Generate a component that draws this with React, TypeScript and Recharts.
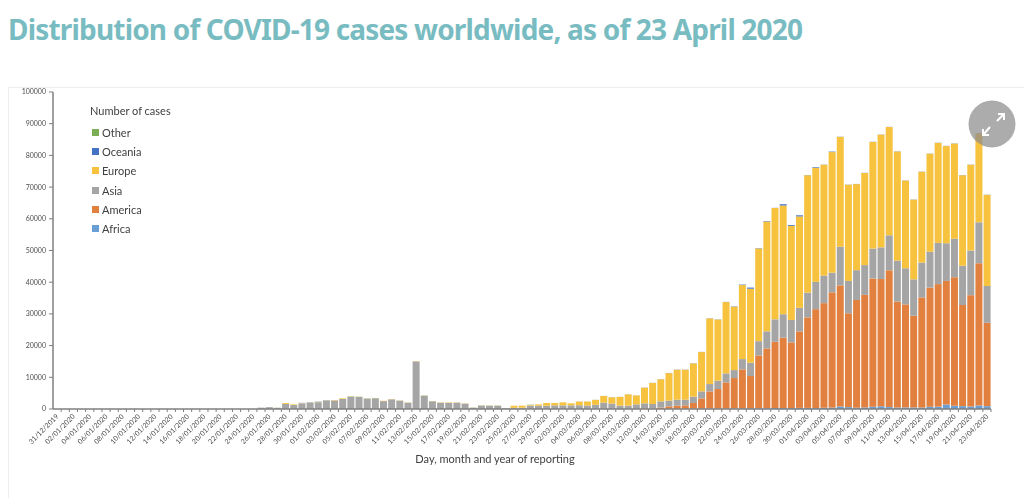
import React from "react";
import { BarChart, Bar, XAxis, YAxis, Legend } from "recharts";

const categories = [
  "31/12/2019",
  "01/01/2020","02/01/2020","03/01/2020","04/01/2020","05/01/2020","06/01/2020","07/01/2020","08/01/2020","09/01/2020","10/01/2020",
  "11/01/2020","12/01/2020","13/01/2020","14/01/2020","15/01/2020","16/01/2020","17/01/2020","18/01/2020","19/01/2020","20/01/2020",
  "21/01/2020","22/01/2020","23/01/2020","24/01/2020","25/01/2020","26/01/2020","27/01/2020","28/01/2020","29/01/2020","30/01/2020","31/01/2020",
  "01/02/2020","02/02/2020","03/02/2020","04/02/2020","05/02/2020","06/02/2020","07/02/2020","08/02/2020","09/02/2020","10/02/2020",
  "11/02/2020","12/02/2020","13/02/2020","14/02/2020","15/02/2020","16/02/2020","17/02/2020","18/02/2020","19/02/2020","20/02/2020",
  "21/02/2020","22/02/2020","23/02/2020","24/02/2020","25/02/2020","26/02/2020","27/02/2020","28/02/2020","29/02/2020",
  "01/03/2020","02/03/2020","03/03/2020","04/03/2020","05/03/2020","06/03/2020","07/03/2020","08/03/2020","09/03/2020","10/03/2020",
  "11/03/2020","12/03/2020","13/03/2020","14/03/2020","15/03/2020","16/03/2020","17/03/2020","18/03/2020","19/03/2020","20/03/2020",
  "21/03/2020","22/03/2020","23/03/2020","24/03/2020","25/03/2020","26/03/2020","27/03/2020","28/03/2020","29/03/2020","30/03/2020","31/03/2020",
  "01/04/2020","02/04/2020","03/04/2020","04/04/2020","05/04/2020","06/04/2020","07/04/2020","08/04/2020","09/04/2020","10/04/2020",
  "11/04/2020","12/04/2020","13/04/2020","14/04/2020","15/04/2020","16/04/2020","17/04/2020","18/04/2020","19/04/2020","20/04/2020",
  "21/04/2020","22/04/2020","23/04/2020",
];

const africa = [
  0,0,0,0,0,0,0,0,0,0,0,0,0,0,0,0,0,0,0,0,0,0,0,0,0,
  0,0,0,0,0,0,0,0,0,0,0,0,0,0,0,0,0,0,0,0,0,0,0,0,0,
  0,0,0,0,0,0,0,0,0,0,0,0,0,0,
  20,20,30,30,30,30,30,30,10,10,20,40,50,55,90,110,
  165,150,150,165,200,200,250,250,300,300,300,350,350,300,400,450,800,600,400,500,700,850,600,450,500,500,450,700,750,1400,1000,900,800,1100,900,
];

const america = [
  0,0,0,0,0,0,0,0,0,0,0,0,0,0,0,0,0,0,0,0,0,0,0,0,0,
  0,0,0,0,0,0,0,0,0,0,0,0,0,0,0,0,0,0,0,0,0,0,0,0,0,
  0,0,0,0,0,0,0,0,0,0,10,10,10,10,
  20,30,30,30,30,30,30,30,200,140,400,800,1000,1100,1800,3250,
  5400,6150,8250,9600,12300,10200,16650,18850,20900,22200,20700,24150,28550,31200,33000,36350,38200,29600,34000,35500,40500,40150,43200,33450,32500,28900,34750,37600,38650,39000,40600,31900,35100,44900,26300,
];

const asia = [
  0,0,0,0,0,0,0,0,0,0,0,0,0,0,0,0,0,0,0,0,0,0,0,0,0,
  300,500,400,1600,1250,1750,1950,2150,2600,2700,3150,3900,3800,3300,3400,2500,3050,2650,2000,15000,4100,2450,2000,1950,2000,
  1700,400,1000,1000,1000,250,420,420,1050,1050,1050,1150,1150,1150,
  1150,1050,1250,1950,1650,1000,1000,1400,1575,1425,1995,1785,1890,1785,1995,2205,
  2310,2625,2835,2520,3250,4200,4500,5400,7100,7400,7100,7400,7800,8600,8700,6200,12200,10200,9400,9400,9400,10000,11000,12900,11400,11500,11000,11300,13000,11900,12100,12400,14100,12900,11600,
];

const europe = [
  0,0,0,0,0,0,0,0,0,0,0,0,0,0,0,0,0,0,0,0,0,0,0,0,0,
  50,50,20,280,200,100,100,100,100,120,200,60,60,50,50,100,80,60,80,100,60,60,80,130,80,
  70,20,40,40,40,60,630,630,200,420,840,735,945,630,
  1155,1260,1575,2100,1995,2750,3550,2830,4950,6650,6950,8700,9450,9450,10500,12400,
  20700,19300,22500,20000,23350,23350,29250,34650,35100,34300,29650,28850,37050,36000,34950,38050,34650,30350,27150,29050,33650,35550,34150,34450,27650,25150,28650,30950,31550,30650,30050,28550,27050,28050,28750,
];

const oceania = [
  0,0,0,0,0,0,0,0,0,0,0,0,0,0,0,0,0,0,0,0,0,0,0,0,0,
  60,80,0,0,0,80,80,80,80,0,0,0,0,0,0,0,0,0,0,0,0,0,0,0,0,
  0,0,0,0,0,0,0,0,0,0,0,0,0,0,
  20,20,20,20,20,20,20,20,30,30,40,50,50,50,50,50,
  50,50,50,100,150,350,100,150,50,400,250,350,50,200,50,150,50,50,50,50,50,50,50,50,50,50,50,50,50,50,50,50,50,50,50,
];

const other = [
  0,0,0,0,0,0,0,0,0,0,0,0,0,0,0,0,0,0,0,0,0,0,0,0,0,
  0,0,0,0,0,0,0,0,0,0,0,60,40,30,30,0,0,0,0,0,100,0,0,0,0,
  0,50,100,60,60,0,0,0,100,0,0,0,0,0,
  0,0,0,0,0,0,0,0,0,0,0,0,0,0,0,0,
  0,0,0,0,0,0,0,0,0,0,0,0,0,0,0,0,0,0,0,0,0,0,0,0,0,0,0,0,0,0,0,0,0,0,0,
];

const yTicks = [0, 10000, 20000, 30000, 40000, 50000, 60000, 70000, 80000, 90000, 100000];

const seriesNames = ["Africa", "America", "Asia", "Europe", "Oceania", "Other"];
const seriesColors = ["#6a9fd6", "#e2813f", "#a5a5a5", "#f7c33f", "#4472c4", "#7caf55"];
const seriesValues = [africa, america, asia, europe, oceania, other];

const TITLE = "Distribution of COVID-19 cases worldwide, as of 23 April 2020";
const LEGEND_TITLE = "Number of cases";
const X_TITLE = "Day, month and year of reporting";

const rows = categories.map((date, i) => {
  const row: Record<string, string | number> = { date };
  seriesNames.forEach((name, s) => {
    row[name] = seriesValues[s][i];
  });
  return row;
});

const FONT = "Lato, 'Open Sans', sans-serif";

const DateTick = (props: any) => {
  const { x, index, payload } = props;
  const step = 938 / categories.length;
  const axisY = 409;
  return (
    <g>
      <line x1={x + step / 2} x2={x + step / 2} y1={axisY} y2={axisY + 3} stroke="#7f7f7f" strokeWidth={1} />
      {index % 2 === 0 ? (
        <text
          x={x + 2}
          y={axisY + 8}
          textAnchor="end"
          fontSize={7}
          fontFamily={FONT}
          fill="#4d4d4d"
          transform={`rotate(-45 ${x + 2} ${axisY + 8})`}
        >
          {payload.value}
        </text>
      ) : null}
    </g>
  );
};

const LegendBox = (props: any) => {
  const items = [...(props.payload || [])].reverse();
  return (
    <div style={{ fontFamily: FONT, color: "#404040" }}>
      <div style={{ fontSize: 11, lineHeight: "14px", height: 19, whiteSpace: "nowrap" }}>{LEGEND_TITLE}</div>
      {items.map((item: any) => (
        <div key={item.value} style={{ display: "flex", alignItems: "center", height: 19.2, fontSize: 11, marginLeft: 2 }}>
          <span style={{ width: 7, height: 7, background: item.color, marginRight: 3, display: "inline-block" }} />
          {item.value}
        </div>
      ))}
    </div>
  );
};

export default function App() {
  return (
    <div style={{ position: "absolute", left: 0, top: 0, width: 1024, height: 498, overflow: "hidden", background: "#fff" }}>
      <div
        style={{
          position: "absolute",
          left: 8,
          top: 11,
          fontFamily: "'Noto Sans', sans-serif",
          fontWeight: 700,
          fontSize: 28,
          letterSpacing: -0.82,
          lineHeight: "36px",
          color: "#78bcc2",
          whiteSpace: "nowrap",
        }}
      >
        {TITLE}
      </div>
      <div
        style={{
          position: "absolute",
          left: 8,
          top: 87,
          width: 1016,
          height: 411,
          borderTop: "1px solid #eeeeee",
          borderLeft: "1px solid #eeeeee",
          boxSizing: "border-box",
        }}
      />
      <div style={{ position: "absolute", left: 0, top: 0, filter: "blur(0.4px)" }}>
        <BarChart
          width={1024}
          height={498}
          data={rows}
          margin={{ top: 92, right: 33, bottom: 0, left: 0 }}
          barCategoryGap="9%"
        >
          <XAxis
            dataKey="date"
            interval={0}
            height={89}
            tick={<DateTick />}
            tickLine={false}
            axisLine={{ stroke: "#7f7f7f", strokeWidth: 1.5 }}
            label={{
              value: X_TITLE,
              position: "insideBottom",
              offset: 35,
              dx: -27,
              fontSize: 11,
              fontFamily: FONT,
              fill: "#404040",
            }}
          />
          <YAxis
            width={53}
            domain={[0, 100000]}
            ticks={yTicks}
            interval={0}
            tickSize={4}
            tickMargin={3}
            tick={{ fontSize: 7, fontFamily: FONT, fill: "#4d4d4d" }}
            tickLine={{ stroke: "#7f7f7f" }}
            axisLine={{ stroke: "#7f7f7f", strokeWidth: 1.5 }}
          />
          <Legend
            layout="vertical"
            align="center"
            verticalAlign="middle"
            content={<LegendBox />}
            wrapperStyle={{ position: "absolute", left: 90, top: 104, width: 120, bottom: "auto", right: "auto" }}
          />
          {seriesNames.map((name, s) => (
            <Bar key={name} dataKey={name} stackId="cases" fill={seriesColors[s]} isAnimationActive={false} />
          ))}
        </BarChart>
      </div>
      <svg width={1024} height={498} style={{ position: "absolute", left: 0, top: 0, pointerEvents: "none" }}>
        <circle cx={992} cy={124} r={23.5} fill="#8c8c8c" fillOpacity={0.72} />
        <g stroke="#fff" strokeWidth={2} fill="none">
          <path d="M997 121 L1004 114 M998 114 L1004 114 L1004 120" />
          <path d="M990 127 L983 135 M983 129 L983 135 L989 135" />
        </g>
      </svg>
    </div>
  );
}
